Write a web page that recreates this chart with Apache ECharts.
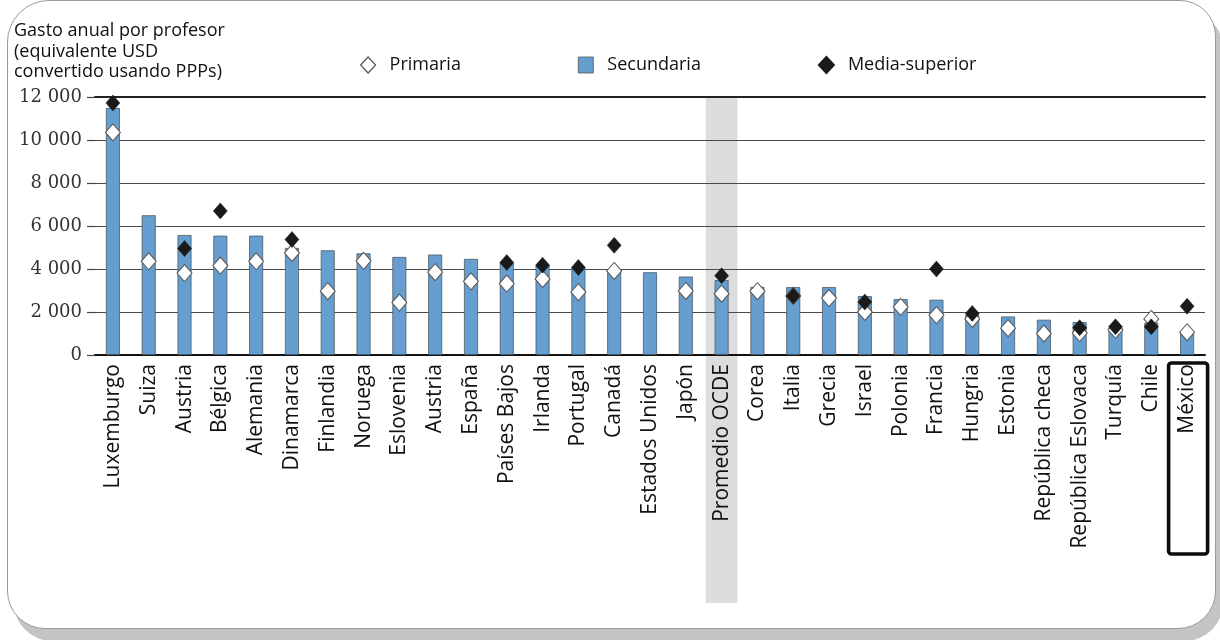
<!DOCTYPE html>
<html>
<head>
<meta charset="utf-8">
<script src="https://cdn.jsdelivr.net/npm/echarts@6/dist/echarts.min.js"></script>
<style>
  html, body { margin: 0; padding: 0; background: #fff; }
  #wrap { position: relative; width: 1220px; height: 640px; overflow: hidden; background: #fff; }
  /* rounded panel with offset shadow */
  #panel {
    position: absolute; left: 7px; top: 0px; width: 1207px; height: 627px;
    border: 1px solid #9a9a9a; background: #fff;
    border-radius: 42px 36px 38px 38px;
    box-shadow: 7px 12px 0 #c4c4c4;
  }
  #chart { position: absolute; left: 0; top: 0; width: 1220px; height: 640px; }
</style>
</head>
<body>
<div id="wrap">
  <div id="panel"></div>
  <div id="chart"></div>
</div>
<script>
// Annual expenditure per teacher, by level of education
const categories = [
  'Luxemburgo', 'Suiza', 'Austria', 'Bélgica', 'Alemania', 'Dinamarca', 'Finlandia',
  'Noruega', 'Eslovenia', 'Austria', 'España', 'Países Bajos', 'Irlanda', 'Portugal',
  'Canadá', 'Estados Unidos', 'Japón', 'Promedio OCDE', 'Corea', 'Italia', 'Grecia',
  'Israel', 'Polonia', 'Francia', 'Hungria', 'Estonia', 'República checa',
  'República Eslovaca', 'Turquía', 'Chile', 'México'
];
const secundaria = [
  11490, 6500, 5580, 5550, 5550, 4980, 4870,
  4730, 4560, 4670, 4470, 4300, 4180, 4070,
  3960, 3850, 3650, 3480, 3170, 3160, 3160,
  2740, 2600, 2570, 1860, 1790, 1640,
  1530, 1250, 1500, 1000
];
const primaria = [
  10350, 4360, 3810, 4160, 4360, 4750, 2970,
  4380, 2440, 3850, 3430, 3320, 3540, 2920,
  3910, null, 2980, 2850, 2970, 2750, 2650,
  2000, 2240, 1860, 1680, 1250, 1000,
  1020, 1170, 1680, 1060
];
const mediaSuperior = [
  11720, null, 4950, 6700, null, 5370, null,
  null, null, null, null, 4300, 4180, 4070,
  5100, null, null, 3690, null, 2750, null,
  2460, null, 4000, 1930, null, null,
  1270, 1310, 1310, 2270
];
const yMin = 0, yMax = 12000, yStep = 2000;
const averageLabel = 'Promedio OCDE';
const focusLabel = 'México';
const axisTitle = 'Gasto anual por profesor\n(equivalente USD\nconvertido usando PPPs)';

const sans = '"Open Sans", "Noto Sans", sans-serif';
const chart = echarts.init(document.getElementById('chart'), null, { renderer: 'canvas' });

function fmtThousands(v) {
  return String(v).replace(/\B(?=(\d{3})+(?!\d))/g, ' ');
}

chart.setOption({
  backgroundColor: 'transparent',
  animation: false,
  title: {
    text: axisTitle,
    left: 9, top: 16,
    textStyle: { fontFamily: sans, fontSize: 18, fontWeight: 'normal', color: '#111', lineHeight: 20.5 }
  },
  legend: {
    left: 355, top: 51,
    itemWidth: 15, itemHeight: 16, itemGap: 117,
    textStyle: { fontFamily: sans, fontSize: 18, color: '#111', padding: [0, 0, 0, 9] },
    data: [
      { name: 'Primaria', icon: 'diamond', itemStyle: { color: '#fff', borderColor: '#555', borderWidth: 1.2 } },
      { name: 'Secundaria', icon: 'rect', itemStyle: { color: '#659ecf', borderColor: '#555', borderWidth: 0.8 } },
      { name: 'Media-superior', icon: 'diamond', itemStyle: { color: '#1a1a1a', borderColor: '#1a1a1a' } }
    ]
  },
  grid: { left: 95, right: 15, top: 97, bottom: 285, containLabel: false },
  xAxis: [{
    type: 'category',
    data: categories,
    axisLine: { lineStyle: { color: '#111', width: 2 } },
    axisTick: { show: false },
    axisLabel: {
      rotate: 90, margin: 9, interval: 0,
      fontFamily: sans, fontSize: 21, color: '#111'
    }
  }, {
    type: 'category',
    position: 'top',
    data: categories,
    axisLine: { show: true, lineStyle: { color: '#222', width: 2 } },
    axisTick: { show: false },
    axisLabel: { show: false }
  }],
  yAxis: {
    type: 'value',
    min: yMin, max: yMax, interval: yStep,
    axisLine: { show: false },
    axisTick: { show: true, length: 8, lineStyle: { color: '#444', width: 1.2 } },
    axisLabel: {
      margin: 13,
      fontFamily: '"DejaVu Serif", serif', fontSize: 18, color: '#333',
      formatter: fmtThousands
    },
    splitLine: { lineStyle: { color: '#4a4a4a', width: 1.2 } }
  },
  series: [
    {
      name: 'Secundaria',
      type: 'bar',
      data: secundaria,
      barWidth: 14,
      itemStyle: { color: '#659ecf', borderColor: '#4d5a66', borderWidth: 0.8 },
      z: 2
    },
    {
      name: 'Primaria',
      type: 'scatter',
      data: primaria,
      symbol: 'diamond',
      symbolSize: [15, 17],
      itemStyle: { color: '#fff', borderColor: '#555', borderWidth: 1, opacity: 1 },
      z: 3
    },
    {
      name: 'Media-superior',
      type: 'scatter',
      data: mediaSuperior,
      symbol: 'diamond',
      symbolSize: [14, 16],
      itemStyle: { color: '#1a1a1a', borderColor: '#1a1a1a', borderWidth: 0.5, opacity: 1 },
      z: 4
    }
  ]
});

// highlight column behind the OECD average and box around Mexico's label
function drawExtras() {
  const x0 = chart.convertToPixel({ xAxisIndex: 0 }, categories[0]);
  const x1 = chart.convertToPixel({ xAxisIndex: 0 }, categories[1]);
  const band = x1 - x0;
  const ax = chart.convertToPixel({ xAxisIndex: 0 }, averageLabel);
  const mx = chart.convertToPixel({ xAxisIndex: 0 }, categories.indexOf(focusLabel));
  const yTop = chart.convertToPixel({ yAxisIndex: 0 }, yMax);
  const yBase = chart.convertToPixel({ yAxisIndex: 0 }, yMin);
  const bw = band * 0.885;
  chart.setOption({
    graphic: [
      {
        type: 'rect', z: -1, silent: true,
        shape: { x: ax - bw / 2, y: yTop + 1, width: bw, height: yBase + 247 - yTop },
        style: { fill: '#dddddd' }
      },
      {
        type: 'rect', z: 10, silent: true,
        shape: { x: mx - 18.5, y: yBase + 8, width: 39, height: 191, r: 3 },
        style: { fill: 'none', stroke: '#0d0d0d', lineWidth: 3.6 }
      }
    ]
  });
}
drawExtras();
</script>
</body>
</html>
